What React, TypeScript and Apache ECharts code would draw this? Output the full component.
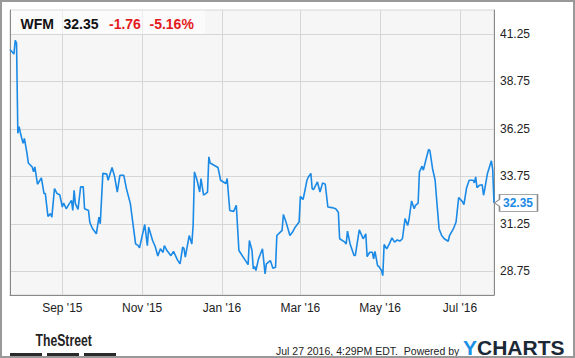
import React, { useEffect, useRef } from 'react';
import * as echarts from 'echarts';

const ticker = 'WFM';
const lastPriceText = '32.35';
const changeText = '-1.76';
const changePctText = '-5.16%';
const footerStamp = 'Jul 27 2016, 4:29PM EDT.  Powered by';

const dates = [
  '2015-07-23','2015-07-26','2015-07-27','2015-07-28','2015-07-29','2015-07-30','2015-07-31',
  '2015-08-02','2015-08-03','2015-08-05','2015-08-06','2015-08-09','2015-08-10','2015-08-11','2015-08-13','2015-08-16','2015-08-18','2015-08-19','2015-08-21','2015-08-23','2015-08-24','2015-08-26','2015-08-28','2015-08-30',
  '2015-09-01','2015-09-02','2015-09-04','2015-09-06','2015-09-08','2015-09-09','2015-09-10','2015-09-11','2015-09-13','2015-09-15','2015-09-17','2015-09-18','2015-09-21','2015-09-22','2015-09-24','2015-09-27','2015-09-29','2015-09-30',
  '2015-10-02','2015-10-05','2015-10-06','2015-10-09','2015-10-11','2015-10-13','2015-10-15','2015-10-18','2015-10-20','2015-10-23','2015-10-27','2015-10-29','2015-10-30',
  '2015-11-03','2015-11-05','2015-11-06','2015-11-09','2015-11-11','2015-11-13','2015-11-15','2015-11-17','2015-11-18','2015-11-20','2015-11-23','2015-11-25','2015-11-28','2015-11-30',
  '2015-12-02','2015-12-03','2015-12-04','2015-12-07','2015-12-09','2015-12-10','2015-12-11','2015-12-13','2015-12-15','2015-12-16','2015-12-18','2015-12-21','2015-12-22','2015-12-23','2015-12-29','2015-12-31',
  '2016-01-04','2016-01-05','2016-01-07','2016-01-10','2016-01-12','2016-01-14','2016-01-21','2016-01-22','2016-01-24','2016-01-25','2016-01-26','2016-01-27','2016-01-29',
  '2016-02-01','2016-02-03','2016-02-04','2016-02-07','2016-02-09','2016-02-11','2016-02-12','2016-02-16','2016-02-17','2016-02-19','2016-02-22','2016-02-24','2016-02-26','2016-02-29',
  '2016-03-01','2016-03-03','2016-03-04','2016-03-06','2016-03-07','2016-03-09','2016-03-10','2016-03-11','2016-03-14','2016-03-16','2016-03-18','2016-03-20','2016-03-22','2016-03-25','2016-03-28','2016-03-30','2016-03-31',
  '2016-04-04','2016-04-05','2016-04-06','2016-04-08','2016-04-11','2016-04-12','2016-04-15','2016-04-18','2016-04-20','2016-04-21','2016-04-23','2016-04-25','2016-04-26','2016-04-27','2016-04-29','2016-04-30',
  '2016-05-02','2016-05-03','2016-05-04','2016-05-06','2016-05-08','2016-05-10','2016-05-12','2016-05-14','2016-05-16','2016-05-18','2016-05-20','2016-05-22','2016-05-23','2016-05-25','2016-05-27','2016-05-28','2016-05-30','2016-05-31',
  '2016-06-02','2016-06-03','2016-06-05','2016-06-07','2016-06-08','2016-06-10','2016-06-12','2016-06-13','2016-06-15','2016-06-17','2016-06-19','2016-06-22','2016-06-23','2016-06-26','2016-06-28','2016-06-30',
  '2016-07-03','2016-07-04','2016-07-06','2016-07-08','2016-07-11','2016-07-12','2016-07-13','2016-07-14','2016-07-16','2016-07-18','2016-07-19','2016-07-20','2016-07-22','2016-07-25','2016-07-26','2016-07-27',
];

const prices = [
  40.42,40.18,40.90,40.76,36.01,36.36,36.01,
  35.48,35.74,34.95,34.45,34.24,33.98,34.24,33.33,33.66,32.84,32.84,31.64,31.78,31.60,33.10,32.84,32.78,
  32.13,32.34,32.04,32.27,32.48,31.95,33.01,32.31,32.01,33.19,33.19,32.04,31.95,31.33,31.00,30.72,31.60,31.25,
  33.90,33.86,33.54,34.21,33.72,32.92,33.80,33.80,33.10,32.31,30.19,30.10,29.98,
  31.21,30.10,31.07,30.37,30.05,29.55,29.93,29.74,30.10,29.84,29.57,29.80,29.35,29.14,
  30.02,29.95,29.49,30.63,30.19,31.16,33.98,33.54,32.92,33.63,32.75,32.92,34.77,34.45,34.21,33.54,
  33.37,33.63,31.95,31.90,32.22,29.84,29.10,30.37,29.84,28.87,29.00,28.79,29.40,
  29.93,28.61,29.14,29.31,28.91,28.96,30.63,30.90,31.74,31.34,30.63,30.81,31.07,31.34,
  32.69,32.52,32.84,33.54,33.70,33.90,33.10,33.05,33.45,32.92,33.40,33.33,32.13,32.10,32.04,31.86,30.46,
  30.28,30.19,30.86,30.19,29.58,29.58,30.93,30.46,30.72,29.52,29.75,29.75,29.40,29.80,29.05,29.00,
  28.79,28.52,30.16,29.93,30.19,30.51,30.28,30.40,30.34,30.46,31.52,31.16,31.46,32.45,32.04,32.22,32.34,33.98,
  34.28,34.07,34.63,35.16,35.10,34.16,33.54,32.66,30.99,30.63,30.46,30.33,30.63,30.99,31.34,32.63,
  32.40,32.26,33.13,33.54,33.54,33.40,33.72,33.15,33.28,33.30,32.75,33.10,33.90,34.56,34.11,32.35,
];

const yTicks = [28.75, 31.25, 33.75, 36.25, 38.75, 41.25];
const xTickDates = ['2015-09-01', '2015-11-01', '2016-01-01', '2016-03-01', '2016-05-01', '2016-07-01'];
const xTickLabels = ["Sep '15", "Nov '15", "Jan '16", "Mar '16", "May '16", "Jul '16"];
const xStart = '2015-07-23';
const xEnd = '2016-07-27';

const toTs = (d: string) => +new Date(d + 'T00:00:00');

const LINE = '#1a8ae6';
const FONT = '"Liberation Sans", Arial, sans-serif';

export default function App() {
  const ref = useRef<HTMLDivElement>(null);
  useEffect(() => {
    if (!ref.current) return;
    const chart = echarts.init(ref.current, undefined, { renderer: 'svg' });
    const xTickTs = xTickDates.map(toTs);
    const lastIdx = dates.length - 1;
    chart.setOption({
      animation: false,
      backgroundColor: '#ffffff',
      textStyle: { fontFamily: FONT },
      grid: {
        left: 10, top: 10, width: 484, height: 285,
        show: true, backgroundColor: '#f6f6f6', borderColor: '#d6d6d6', borderWidth: 1,
      },
      xAxis: {
        type: 'value',
        min: toTs(xStart),
        max: toTs(xEnd),
        axisLine: { show: true, lineStyle: { color: '#888', width: 1 } },
        axisTick: { show: false, customValues: xTickTs },
        splitLine: { show: true, lineStyle: { color: '#d6d6d6', width: 1 } },
        axisLabel: {
          customValues: xTickTs,
          color: '#222', fontSize: 12, fontFamily: FONT, margin: 7,
          formatter: (v: number) => {
            const i = xTickTs.indexOf(v);
            return i >= 0 ? xTickLabels[i] : '';
          },
        },
      },
      yAxis: [
        {
          type: 'value', position: 'right', min: 27.5, max: 42.5,
          axisLine: { show: true, lineStyle: { color: '#888', width: 1 } },
          axisTick: { show: false, customValues: yTicks },
          splitLine: { show: true, lineStyle: { color: '#d6d6d6', width: 1 } },
          axisLabel: {
            customValues: yTicks, color: '#222', fontSize: 12, fontFamily: FONT, margin: 6,
            formatter: (v: number) => v.toFixed(2),
          },
        },
        {
          type: 'value', position: 'left', min: 27.5, max: 42.5,
          axisLine: { show: true, lineStyle: { color: '#888', width: 1 } },
          axisTick: { show: false }, axisLabel: { show: false }, splitLine: { show: false },
        },
      ],
      series: [
        {
          type: 'line',
          data: dates.map((d, i) => [toTs(d), prices[i]]),
          showSymbol: false,
          symbol: 'none',
          lineStyle: { color: LINE, width: 1.6 },
          markPoint: {
            silent: true,
            data: [{ coord: [toTs(dates[lastIdx]), prices[lastIdx]], value: lastPriceText }],
            symbol: 'path://M0,8.5 L5,5 L5,0 L43,0 L43,17 L5,17 L5,12 Z',
            symbolSize: [43, 17],
            symbolOffset: [22, 0],
            symbolKeepAspect: false,
            itemStyle: { color: '#ffffff', borderColor: '#8a8a8a', borderWidth: 1 },
            label: {
              show: true, position: 'inside', offset: [2, 0], formatter: lastPriceText,
              color: LINE, fontWeight: 'bold', fontSize: 12, fontFamily: FONT,
            },
          },
        },
      ],
      graphic: [
        { type: 'rect', z: 10, shape: { x: 11, y: 10.5, width: 194, height: 23.5 }, style: { fill: 'rgba(255,255,255,0.55)' } },
        { type: 'text', z: 11, x: 20.5, y: 23.5, style: { text: ticker, fill: '#111', font: `bold 14px ${FONT}`, verticalAlign: 'middle' } },
        { type: 'text', z: 11, x: 63.5, y: 23.5, style: { text: lastPriceText, fill: '#111', font: `bold 14px ${FONT}`, verticalAlign: 'middle' } },
        { type: 'text', z: 11, x: 109, y: 23.5, style: { text: changeText, fill: '#e31a1c', font: `bold 14px ${FONT}`, verticalAlign: 'middle' } },
        { type: 'text', z: 11, x: 149.5, y: 23.5, style: { text: changePctText, fill: '#e31a1c', font: `bold 14px ${FONT}`, verticalAlign: 'middle' } },
        { type: 'text', z: 11, x: 35.5, y: 340.5, scaleX: 0.74, style: { text: 'TheStreet', fill: '#222', font: `bold 16.5px ${FONT}`, verticalAlign: 'middle' } },
        { type: 'rect', z: 11, shape: { x: 10, y: 353, width: 32, height: 3.5 }, style: { fill: '#2a2a2a' } },
        { type: 'rect', z: 11, shape: { x: 47, y: 353, width: 32, height: 3.5 }, style: { fill: '#2a2a2a' } },
        { type: 'rect', z: 11, shape: { x: 84, y: 353, width: 32, height: 3.5 }, style: { fill: '#2a2a2a' } },
        { type: 'text', z: 11, x: 276, y: 350.5, scaleX: 0.955, style: { text: footerStamp, fill: '#222', font: `11px ${FONT}`, verticalAlign: 'middle' } },
        {
          type: 'text', z: 11, x: 463, y: 347.5,
          style: {
            text: '{y|Y}{c|CHARTS}', verticalAlign: 'middle',
            rich: {
              y: { fill: '#1b8fe3', font: `bold 21px ${FONT}` },
              c: { fill: '#1b2836', font: `bold 21px ${FONT}` },
            },
          },
        },
        { type: 'rect', z: 20, shape: { x: 1, y: 1, width: 573, height: 356 }, style: { fill: 'none', stroke: '#999', lineWidth: 2 } },
      ],
    });
    return () => chart.dispose();
  }, []);
  return <div ref={ref} style={{ position: 'fixed', left: 0, top: 0, width: 575, height: 358 }} />;
}
